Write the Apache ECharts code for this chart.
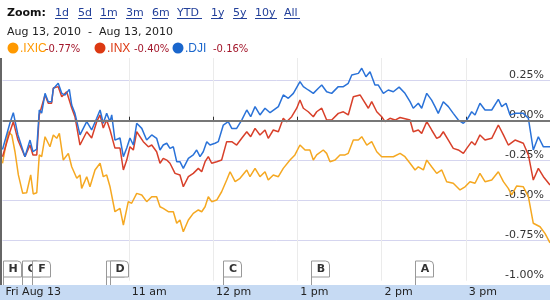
<!DOCTYPE html>
<html>
<head>
<meta charset="utf-8">
<script src="https://cdn.jsdelivr.net/npm/echarts@6/dist/echarts.min.js"></script>
<style>html,body{margin:0;padding:0;background:#fff}#c{width:550px;height:300px}</style>
</head>
<body>
<div id="c"></div>
<script>
// minutes since 9:30 am and % change
const djiTimes = [0,5.3,7.7,11,16,19.6,21.7,24.4,26.2,27.9,30.3,32.6,35,36.2,39.7,42.2,44.5,47.6,49.3,51.6,55.2,60,63.5,67.1,69.5,71.8,74.2,76.6,77.8,80.1,83.7,86.1,88.5,90.8,93.2,95.6,99.2,102.7,106.3,109.8,112.2,114.5,117,119.3,121.7,124.1,126.4,128.8,132.4,135.9,138.3,140.7,143,145.5,147.8,151.4,153.7,157.3,160.8,163.3,166.8,170.4,174,176.8,179.9,183.4,187,190.6,196.5,200,203.6,207.2,211.9,214.3,217.8,221.4,225,227.4,230.9,234.5,239.2,242.8,246.3,248.8,253.5,255.9,258.9,261.8,265.3,267.7,271.3,274.8,278.4,282.5,286.7,290.3,292.6,296.2,298.6,302.2,305.7,308.1,310.4,314,317.6,321.1,324.7,328.3,330.7,334.2,336.6,340.1,343.7,348.5,353.2,355.6,358.7,361.5,365.1,371,374.6,378.1,381.7,385.3,390];
const djiValues = [-0.18,-0.014,0.05,-0.089,-0.225,-0.121,-0.194,-0.177,0.067,0.048,0.171,0.119,0.119,0.2,0.234,0.171,0.16,0.196,0.098,0.046,-0.089,-0.006,-0.058,0.015,0.067,-0.016,0.046,-0.006,0.036,-0.121,-0.108,-0.225,-0.171,-0.108,-0.152,-0.016,-0.048,-0.121,-0.089,-0.11,-0.183,-0.152,-0.141,-0.173,-0.163,-0.256,-0.256,-0.298,-0.235,-0.214,-0.183,-0.225,-0.194,-0.131,-0.152,-0.141,-0.131,-0.027,-0.006,-0.048,-0.048,0.004,0.067,0.025,0.088,0.036,0.078,0.05,0.088,0.161,0.14,0.171,0.244,0.213,0.192,0.171,0.203,0.223,0.181,0.171,0.213,0.213,0.234,0.286,0.296,0.328,0.275,0.306,0.223,0.223,0.171,0.192,0.181,0.21,0.171,0.119,0.078,0.109,0.078,0.171,0.129,0.088,0.046,0.119,0.088,0.046,0.004,-0.016,0.004,0.056,0.036,0.109,0.067,0.067,0.134,0.088,0.109,0.036,0.046,0.046,0.015,-0.183,-0.1,-0.163,-0.163];

const inxTimes = [0,5.3,7.7,11,16,19.6,21.7,24.4,26.2,30.3,32.6,35,36.2,39.7,42.2,45.7,49.3,51.6,55.2,60,63.5,67.1,69.5,71.8,74.2,76.6,80.1,83.7,86.1,88.5,90.8,93.2,95.6,100.3,103.9,106.3,109.8,112.2,114.5,117,119.3,122.9,126.4,128.8,132.4,135.9,139.5,141.9,144.3,146.6,149,152.6,156.1,159.7,163.3,166.8,170.4,174,176.8,179.9,183.4,187,189.3,192.9,196.5,200,202.4,206,209.6,211.9,214.3,217.8,221.4,223.8,227.4,230.9,234.5,239.2,242.8,246.3,249.9,254.7,257,260.6,263,266.6,270.1,272.5,276,279.6,283.2,290.3,292.6,296.2,298.6,302.2,305.7,309.3,311.6,314,317.6,321.1,324.7,328.3,330.7,334.2,336.6,340.1,343.7,348.5,353.2,356.8,360.3,365.1,371,374.6,378.1,381.7,385.3,390];
const inxValues = [-0.225,-0.069,-0.006,-0.121,-0.225,-0.152,-0.214,-0.214,0.036,0.161,0.109,0.109,0.204,0.213,0.15,0.181,0.079,0.025,-0.152,-0.069,-0.108,-0.006,0.036,-0.046,0.004,-0.058,-0.171,-0.171,-0.308,-0.246,-0.163,-0.183,-0.069,-0.131,-0.163,-0.152,-0.194,-0.266,-0.235,-0.246,-0.266,-0.329,-0.339,-0.413,-0.35,-0.329,-0.298,-0.319,-0.256,-0.225,-0.266,-0.256,-0.246,-0.131,-0.131,-0.152,-0.11,-0.069,-0.1,-0.048,-0.089,-0.058,-0.11,-0.058,-0.069,0.015,-0.006,0.025,0.078,0.129,0.078,0.056,0.025,0.056,0.078,0.004,0.004,0.046,0.056,0.036,0.15,0.161,0.129,0.078,0.119,0.056,0.025,-0.006,0.015,0.004,0.02,0.004,-0.069,-0.058,-0.079,-0.006,-0.058,-0.11,-0.1,-0.069,-0.121,-0.173,-0.183,-0.204,-0.173,-0.131,-0.152,-0.089,-0.121,-0.11,-0.027,-0.089,-0.152,-0.121,-0.141,-0.214,-0.371,-0.298,-0.35,-0.402];

const ixicTimes = [0,4.1,6.6,8.9,11.3,14.4,17.2,20.1,21.9,24.4,26.2,27.9,30.3,33.8,36.2,38.6,40.5,43.3,46.9,49.3,52.9,55.2,56.4,60,62.3,65.9,69.5,71.8,74.2,76.6,80.1,83.7,86.1,89.6,92,95.6,99.2,102.7,106.3,109.8,112.2,114.5,118.1,121.7,124.1,126.4,128.8,132.4,135.9,139.5,141.9,144.3,146.6,149,152.6,156.1,159.7,162.1,165.7,169.2,174,176.3,179.9,183.4,187,189.3,192.9,196.5,200,204.8,208.3,211.9,215.5,219,221.4,223.8,228.5,230.9,233.3,236.9,240.4,244,246.3,249.9,253.5,255.9,259.5,263,266.6,270.1,273.7,278.4,283.2,286.7,290.3,293.9,296.2,299.8,302.2,305.7,309.3,312.9,316.4,321.1,325.9,329.5,333,336.6,340.1,343.7,348.5,353.2,356.8,360.3,362.7,366.3,371,374.6,378.1,382.9,386.4,390];
const ixicValues = [-0.266,-0.069,-0.089,-0.194,-0.339,-0.454,-0.45,-0.339,-0.458,-0.45,-0.214,-0.225,-0.1,-0.163,-0.089,-0.11,-0.079,-0.246,-0.204,-0.288,-0.36,-0.339,-0.423,-0.35,-0.413,-0.308,-0.266,-0.35,-0.339,-0.413,-0.569,-0.548,-0.652,-0.506,-0.516,-0.454,-0.464,-0.506,-0.475,-0.475,-0.538,-0.548,-0.569,-0.569,-0.641,-0.621,-0.694,-0.621,-0.579,-0.558,-0.569,-0.538,-0.475,-0.506,-0.496,-0.444,-0.371,-0.319,-0.381,-0.36,-0.308,-0.35,-0.298,-0.35,-0.319,-0.371,-0.339,-0.35,-0.298,-0.246,-0.214,-0.152,-0.183,-0.183,-0.246,-0.214,-0.183,-0.204,-0.256,-0.246,-0.214,-0.214,-0.204,-0.121,-0.121,-0.1,-0.152,-0.131,-0.194,-0.225,-0.225,-0.225,-0.204,-0.225,-0.266,-0.308,-0.288,-0.308,-0.246,-0.288,-0.329,-0.308,-0.381,-0.391,-0.433,-0.413,-0.381,-0.391,-0.329,-0.381,-0.371,-0.319,-0.381,-0.423,-0.464,-0.408,-0.413,-0.475,-0.641,-0.663,-0.704,-0.763];

const seriesNames = ['.IXIC', '.INX', '.DJI'];
const seriesChanges = ['-0.77%', '-0.40%', '-0.16%'];

const hourTicks = [90, 150, 210, 270, 330];
const hourLabels = ['11 am', '12 pm', '1 pm', '2 pm', '3 pm'];
const dayLabel = 'Fri Aug 13';
const yTicks = [-1, -0.75, -0.5, -0.25, 0, 0.25];

const flagLetters = ['H', 'G', 'F', 'E', 'D', 'C', 'B', 'A'];
const flagTimes = [0.6, 13.7, 21.2, 73.7, 76.6, 157.3, 219.8, 293.8];

const zoomLinks = ['1d','5d','1m','3m','6m','YTD','1y','5y','10y','All'];
const dateRange = 'Aug 13, 2010  -  Aug 13, 2010';

// ---- styling / layout ----
const colors = ['#f5a821', '#d8402a', '#2a72d8'];
const dotColors = ['#ff9900', '#dc3912', '#1a66cc'];
const linkX = [55, 78, 100, 126, 152, 177, 211, 233, 255, 284];
const linkW = [13, 14, 15, 16, 16, 25, 12, 14, 22, 16];
const font = '"DejaVu Sans", Verdana, sans-serif';

const graphics = [];
graphics.push({type:'rect', z:-10, shape:{x:0,y:285,width:550,height:15}, style:{fill:'#c6daf3'}});
graphics.push({type:'rect', z:-10, shape:{x:0,y:58,width:2,height:227}, style:{fill:'#666'}});
graphics.push({type:'text', x:7, y:13, style:{text:'Zoom:', font:'bold 11px ' + font, fill:'#111', verticalAlign:'middle'}});
zoomLinks.forEach((l, i) => {
  graphics.push({type:'text', x:linkX[i], y:13, style:{text:l, font:'11px ' + font, fill:'#23409a', verticalAlign:'middle'}});
  graphics.push({type:'line', shape:{x1:linkX[i], y1:18.5, x2:linkX[i]+linkW[i], y2:18.5}, style:{stroke:'#23409a', lineWidth:1}});
});
graphics.push({type:'text', x:7, y:32, style:{text:dateRange, font:'11px ' + font, fill:'#222', verticalAlign:'middle'}});
const legX = [13, 100, 178];
seriesNames.forEach((n, i) => {
  graphics.push({type:'circle', shape:{cx:legX[i], cy:48, r:5.5}, style:{fill:dotColors[i]}});
  graphics.push({type:'text', x:legX[i]+7, y:49, style:{text:n, font:'12px "Liberation Sans", Arial, sans-serif', fill:dotColors[i], verticalAlign:'middle'}});
  const w = [25, 27, 28][i];
  graphics.push({type:'text', x:legX[i]+7+w, y:49, style:{text:seriesChanges[i], font:'10px ' + font, fill:'#a3162a', verticalAlign:'middle'}});
});

const chart = echarts.init(document.getElementById('c'), null, {renderer:'canvas'});
const mk = (t, v) => t.map((x, i) => [x, v[i]]);
chart.setOption({
  animation: false,
  grid: {left: 2.5, right: 0, top: 58, bottom: 19.3},
  xAxis: {
    type: 'value', min: 0, max: 390, position: 'bottom', offset: 4.3,
    axisLine: {show: false},
    axisTick: {show: true, inside: true, length: 4, customValues: hourTicks, lineStyle: {color: '#333'}},
    axisLabel: {customValues: [0].concat(hourTicks), align: 'left', margin: 2, padding: [0,0,0,3],
      fontSize: 11, fontFamily: font, color: '#222',
      formatter: v => v === 0 ? dayLabel : hourLabels[hourTicks.indexOf(v)]},
    splitLine: {show: true, lineStyle: {color: '#ebebeb', width: 1}}
  },
  yAxis: {
    type: 'value', position: 'right', min: -1, max: 0.392, interval: 0.25,
    axisLine: {show: false}, axisTick: {show: false},
    axisLabel: {inside: true, margin: 6, verticalAlign: 'bottom', fontSize: 11, fontFamily: font, color: '#333',
      formatter: v => yTicks.some(t => Math.abs(t - v) < 1e-6) ? v.toFixed(2) + '%' : ''},
    splitLine: {show: true, lineStyle: {width: 1, color: ['rgba(0,0,0,0)', '#d5d5ef', '#d5d5ef', '#d5d5ef', 'rgba(0,0,0,0)', '#d5d5ef', 'rgba(0,0,0,0)']}}
  },
  graphic: graphics,
  series: [
    {type: 'line', name: seriesNames[0], data: mk(ixicTimes, ixicValues), showSymbol: false, color: colors[0], lineStyle: {width: 1.5},
     markLine: {silent: true, symbol: 'none', label: {show: false}, lineStyle: {color: '#777', width: 2, type: 'solid'}, data: [{yAxis: 0}]}},
    {type: 'line', name: seriesNames[1], data: mk(inxTimes, inxValues), showSymbol: false, color: colors[1], lineStyle: {width: 1.5}},
    {type: 'line', name: seriesNames[2], data: mk(djiTimes, djiValues), showSymbol: false, color: colors[2], lineStyle: {width: 1.5}},
    {type: 'custom', clip: false, silent: true, z: 5,
     data: flagTimes.map((t, i) => [t, i]),
     renderItem: (params, api) => {
       const x = Math.round(api.coord([api.value(0), -1])[0]) + 0.5;
       const yb = 285;
       const top = yb - 24;
       const letter = flagLetters[api.value(1)];
       return {type: 'group', children: [
         {type: 'line', shape: {x1: x, y1: top, x2: x, y2: yb}, style: {stroke: '#999', lineWidth: 1}},
         {type: 'rect', shape: {x: x, y: top, width: 18, height: 16, r: [0, 4, 0, 0]}, style: {fill: '#fff', stroke: '#999', lineWidth: 1}},
         {type: 'text', x: x + 9.5, y: top + 8.5, style: {text: letter, font: 'bold 11px ' + font, fill: '#333', align: 'center', verticalAlign: 'middle'}}
       ]};
     }}
  ]
});
</script>
</body>
</html>
